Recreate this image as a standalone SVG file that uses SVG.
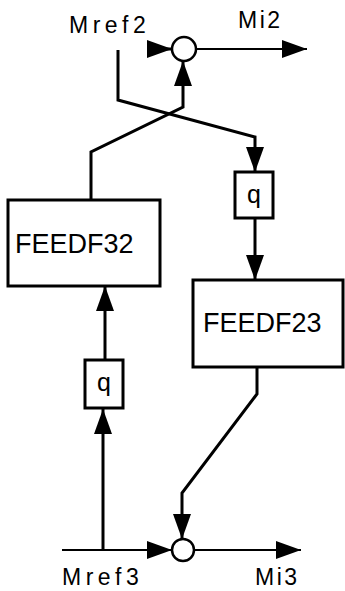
<svg xmlns="http://www.w3.org/2000/svg" width="345" height="591" viewBox="0 0 345 591">
  <defs>
    <marker id="arrow" viewBox="0 0 25 18" refX="25" refY="9" markerWidth="25" markerHeight="18" markerUnits="userSpaceOnUse" orient="auto">
      <path d="M0,0 L25,9 L0,18 Z" fill="#000"/>
    </marker>
    <style>
      .wire { fill: none; stroke: #000; stroke-width: 3; stroke-linejoin: miter; marker-end: url(#arrow); }
      .thin { stroke-width: 2.2; }
      .box { fill: #fff; stroke: #000; stroke-width: 3; }
      .sum { fill: #fff; stroke: #000; stroke-width: 2.5; }
      .blk { font-family: "Liberation Sans", Arial, sans-serif; font-size: 27px; fill: #000; }
      .q { font-family: "Liberation Sans", Arial, sans-serif; font-size: 25px; fill: #000; text-anchor: middle; }
      .lbl { font-family: "Liberation Sans", Arial, sans-serif; font-size: 23px; fill: #000; }
    </style>
  </defs>
  <rect width="345" height="591" fill="#fff"/>
  <g id="connectors">
    <path class="wire" d="M148,49 L172,49"/>
    <path class="wire thin" d="M196,49 L307,49"/>
    <path class="wire" d="M91,200 L91,152 L183,107 L183,61"/>
    <path class="wire" d="M118,50 L118,100 L255,137 L255,172"/>
    <path class="wire" d="M255,218 L255,280"/>
    <path class="wire" d="M257,367 L257,394 L182,493 L182,539"/>
    <path class="wire thin" d="M62,550 L172,550"/>
    <path class="wire" d="M103,550 L103,409"/>
    <path class="wire" d="M105,360 L105,286"/>
    <path class="wire thin" d="M194,550 L301,550"/>
  </g>
  <g id="sum2">
    <circle class="sum" cx="184" cy="49" r="12"/>
  </g>
  <g id="sum3">
    <circle class="sum" cx="183" cy="550" r="11"/>
  </g>
  <g id="feedf32">
    <rect class="box" x="8" y="200" width="152" height="86"/>
    <text class="blk" x="15" y="253">FEEDF32</text>
  </g>
  <g id="feedf23">
    <rect class="box" x="193" y="280" width="150" height="87"/>
    <text class="blk" x="203" y="332">FEEDF23</text>
  </g>
  <g id="q23">
    <rect class="box" x="235" y="172" width="38" height="46"/>
    <text class="q" x="254" y="203">q</text>
  </g>
  <g id="q32">
    <rect class="box" x="85" y="360" width="38" height="48"/>
    <text class="q" x="104" y="391">q</text>
  </g>
  <g id="labels">
    <text class="lbl" x="69" y="33" letter-spacing="4.5" font-size="24">Mref2</text>
    <text class="lbl" x="238" y="28" letter-spacing="2.5" font-size="24">Mi2</text>
    <text class="lbl" x="62" y="585" letter-spacing="4.5" font-size="24">Mref3</text>
    <text class="lbl" x="255" y="585" letter-spacing="2.5" font-size="24">Mi3</text>
  </g>
</svg>
